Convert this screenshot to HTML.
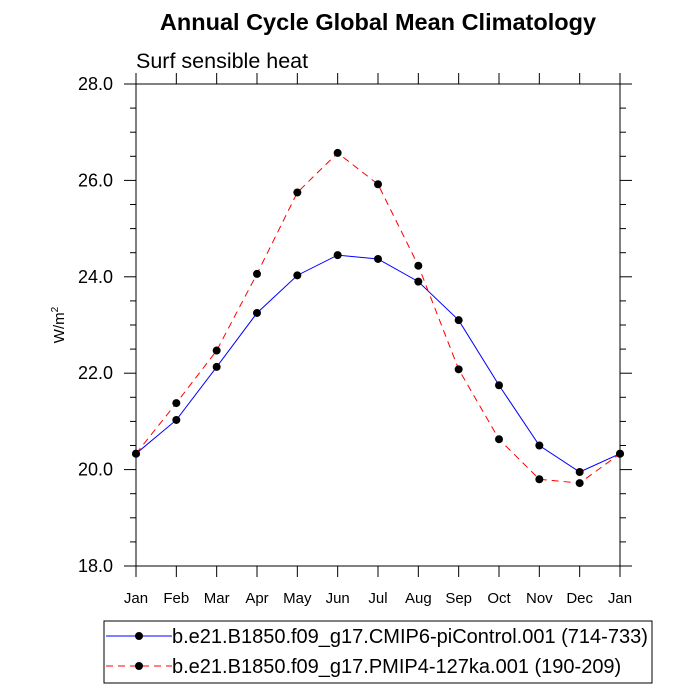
<!DOCTYPE html>
<html><head><meta charset="utf-8"><style>
body{margin:0;background:#fff;}
svg{display:block;font-family:"Liberation Sans",sans-serif;}
</style></head><body>
<svg id="chart" width="700" height="700" viewBox="0 0 700 700">
<text x="378" y="30" text-anchor="middle" font-size="23.5" font-weight="bold">Annual Cycle Global Mean Climatology</text>
<text x="136" y="68" font-size="21.5">Surf sensible heat</text>
<text transform="translate(64,325) rotate(-90)" text-anchor="middle" font-size="15">W/m<tspan dy="-6" font-size="10">2</tspan></text>
<rect x="136" y="84" width="484" height="482" fill="none" stroke="#000" stroke-width="1"/>
<g id="axes"></g>
<g id="series"></g>
<g>
<rect x="104" y="621" width="548" height="62" fill="none" stroke="#000" stroke-width="1"/>
<g>
<line x1="106" y1="636" x2="172" y2="636" stroke="#0000ff" stroke-width="1"/>
<circle cx="139" cy="636" r="4" fill="#000"/>
<text x="172" y="643" font-size="20">b.e21.B1850.f09_g17.CMIP6-piControl.001 (714-733)</text>
</g>
<g>
<line x1="106" y1="666" x2="172" y2="666" stroke="#ff0000" stroke-width="1" stroke-dasharray="7,5"/>
<circle cx="139" cy="666" r="4" fill="#000"/>
<text x="172" y="673" font-size="20">b.e21.B1850.f09_g17.PMIP4-127ka.001 (190-209)</text>
</g>
</g>
</svg>
<script>
const months = ["Jan","Feb","Mar","Apr","May","Jun","Jul","Aug","Sep","Oct","Nov","Dec","Jan"];
const piControl = [20.33,21.03,22.13,23.25,24.03,24.45,24.37,23.9,23.1,21.75,20.5,19.95,20.33];
const ka127 = [20.33,21.38,22.47,24.06,25.75,26.57,25.92,24.23,22.08,20.63,19.8,19.72,20.33];
const yTicks = [18.0,20.0,22.0,24.0,26.0,28.0];
const NS="http://www.w3.org/2000/svg";
const X0=136,X1=620,Y0=566,Y1=84,YMIN=18,YMAX=28;
const xs=i=>X0+(X1-X0)*i/(months.length-1);
const ys=v=>Y0-(v-YMIN)/(YMAX-YMIN)*(Y0-Y1);
function mk(t,a,p){const e=document.createElementNS(NS,t);for(const k in a)e.setAttribute(k,a[k]);p.appendChild(e);return e;}
const ax=document.getElementById('axes');
months.forEach((m,i)=>{
  const x=xs(i);
  const t=mk('line',{x1:x,y1:Y0,x2:x,y2:Y0+11,stroke:'#000'},ax);
  
  
  const t2=mk('line',{x1:x,y1:Y1,x2:x,y2:Y1-11,stroke:'#000'},ax);
  
  
  const l=mk('text',{x:x,y:Y0+37,'text-anchor':'middle','font-size':'15'},ax);
  l.textContent=m;
  
  
});
for(let v=YMIN;v<=YMAX+1e-9;v+=0.5){
  const y=ys(v);const major=Math.abs(v-Math.round(v/2)*2)<1e-6;const len=major?12:6;
  const a=mk('line',{x1:X0-len,y1:y,x2:X0,y2:y,stroke:'#000'},ax);
  
  
  const b=mk('line',{x1:X1,y1:y,x2:X1+len,y2:y,stroke:'#000'},ax);
  
  
}
yTicks.forEach(v=>{
  const l=mk('text',{x:X0-23,y:ys(v)+6,'text-anchor':'end','font-size':'18'},ax);
  l.textContent=v.toFixed(1);
  
  
});
const sg=document.getElementById('series');
function series(vals,color,dash,name){
  const g=mk('g',{},sg);
  
  
  const pl=mk('polyline',{points:vals.map((v,i)=>xs(i)+','+ys(v)).join(' '),fill:'none',stroke:color,'stroke-width':1,'stroke-dasharray':dash},g);
  
  
  vals.forEach((v,i)=>{
    const c=mk('circle',{cx:xs(i),cy:ys(v),r:4,fill:'#000'},g);
    
    
  });
}
series(piControl,'#0000ff','none','picontrol-series');
series(ka127,'#ff0000','7,5','127ka-series');
</script>
</body></html>
